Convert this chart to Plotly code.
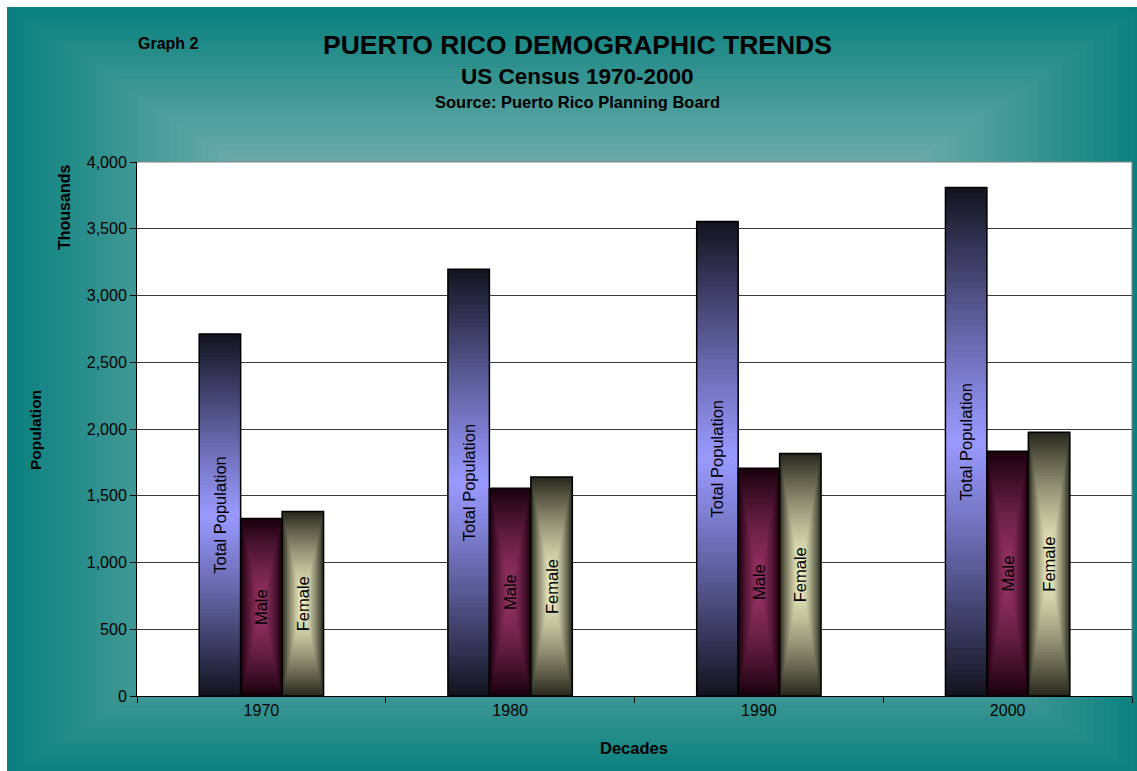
import plotly.graph_objects as go

# ---------------- data ----------------
decades = ["1970", "1980", "1990", "2000"]
total_pop = [2712, 3197, 3555, 3809]
male_pop = [1330, 1556, 1706, 1834]
female_pop = [1382, 1641, 1817, 1975]
series_names = ["Total Population", "Male", "Female"]
y_ticks = [0, 500, 1000, 1500, 2000, 2500, 3000, 3500, 4000]

# ---------------- style ----------------
W, H = 1137, 771
ML, MR, MT, MB = 137, 5, 162, 75
PW, PH = W - ML - MR, H - MT - MB
FONT = "Arial, 'Liberation Sans', sans-serif"

# center colour, edge colour, from-center (both directions) flag, gamma
series_style = [
    ((153, 153, 255), (18, 18, 30), False, 1.1),
    ((150, 50, 100), (24, 0, 12), True, 1.4),
    ((240, 240, 196), (38, 38, 28), True, 1.4),
]
GROUP = 0.5          # fraction of category used by the group
NSTEP = 48


def lerp(c0, c1, t):
    return "rgb(%d,%d,%d)" % tuple(round(a + (b - a) * t) for a, b in zip(c0, c1))


def px2paper(px, py):
    return (px - ML) / PW, (H - MB - py) / PH


fig = go.Figure()
series_vals = [total_pop, male_pop, female_pop]
w = GROUP / len(series_vals)

for j, (vals, name, (cc, ce, both, gam)) in enumerate(zip(series_vals, series_names, series_style)):
    left = -GROUP / 2 + j * w
    for k in range(NSTEP):
        s = 1 - k / NSTEP
        t = max(s - 0.5 / NSTEP, 0) ** gam
        sx = s if both else 1.0
        fig.add_trace(go.Bar(
            x=decades,
            y=[v * s for v in vals],
            base=[v * (1 - s) / 2 for v in vals],
            offset=left + (1 - sx) * w / 2,
            width=sx * w,
            marker=dict(color=lerp(cc, ce, t), line=dict(width=0)),
            showlegend=False, hoverinfo="skip",
        ))
    fig.add_trace(go.Bar(
        x=decades, y=vals, offset=left, width=w, name=name,
        marker=dict(color="rgba(0,0,0,0)", line=dict(color="black", width=1.5)),
        text=[name] * len(vals), textposition="inside", insidetextanchor="middle",
        textangle=-90, textfont=dict(family=FONT, size=16.5, color="black"),
        constraintext="none", showlegend=False,
    ))

# ---------------- background (rectangular from-centre gradient) ----------------
shapes = []
gx0, gy0, gx1, gy1 = 7, 7, W + 6, H + 6        # gradient geometry
cx, cy = (gx0 + gx1) / 2, (gy0 + gy1) / 2
hw, hh = (gx1 - gx0) / 2, (gy1 - gy0) / 2
c_center, c_edge = (255, 236, 232), (8, 128, 126)
NB = 70
for k in range(NB):
    s = 1 - k / NB
    t = max(s - 0.5 / NB, 0)
    if k == 0:
        x0, y0 = px2paper(gx0, gy1 + 40)
        x1, y1 = px2paper(gx1 + 40, gy0)
    else:
        x0, y0 = px2paper(cx - hw * s, cy + hh * s)
        x1, y1 = px2paper(cx + hw * s, cy - hh * s)
    shapes.append(dict(type="rect", xref="paper", yref="paper", x0=x0, y0=y0, x1=x1, y1=y1,
                       fillcolor=lerp(c_center, c_edge, t), line=dict(width=0), layer="below"))
# white plot area on top of the background gradient
shapes.append(dict(type="rect", xref="paper", yref="paper", x0=0, y0=0, x1=1, y1=1,
                   fillcolor="white", line=dict(width=0), layer="below"))
# plot-area frame (top/right)
shapes.append(dict(type="line", xref="paper", yref="paper", x0=0, y0=1, x1=1, y1=1,
                   line=dict(color="#808080", width=1), layer="above"))
shapes.append(dict(type="line", xref="paper", yref="paper", x0=1, y0=0, x1=1, y1=1,
                   line=dict(color="#808080", width=1), layer="above"))

# ---------------- annotations ----------------
def ann(text, px, py, size, bold=True, angle=0):
    x, y = px2paper(px, py)
    return dict(text="<b>%s</b>" % text if bold else text, x=x, y=y, xref="paper", yref="paper",
                showarrow=False, xanchor="center", yanchor="middle", textangle=angle,
                font=dict(family=FONT, size=size, color="black"))

annotations = [
    ann("Graph 2", 168, 44, 16),
    ann("PUERTO RICO DEMOGRAPHIC TRENDS", 577, 45, 26.5),
    ann("US Census 1970-2000", 577, 77, 22.5),
    ann("Source: Puerto Rico Planning Board", 577, 102, 16.5),
    ann("Population", 35, 430, 15.5, angle=-90),
    ann("Thousands", 64, 208, 16, angle=-90),
    ann("Decades", 634, 748, 16.5),
]

fig.update_layout(
    width=W, height=H, autosize=False,
    margin=dict(l=ML, r=MR, t=MT, b=MB, pad=0),
    paper_bgcolor="white", plot_bgcolor="white",
    barmode="overlay", showlegend=False,
    shapes=shapes, annotations=annotations,
    font=dict(family=FONT, size=16, color="black"),
)
fig.update_xaxes(
    type="category", range=[-0.5, len(decades) - 0.5],
    showline=True, linecolor="black", linewidth=1,
    ticks="outside", tickson="boundaries", ticklen=6, tickcolor="black",
    showgrid=False, tickfont=dict(family=FONT, size=16, color="black"),
)
fig.update_yaxes(
    range=[0, 4000], tickvals=y_ticks, tickformat=",d",
    showline=True, linecolor="black", linewidth=1,
    ticks="outside", ticklen=6, tickcolor="black",
    showgrid=True, gridcolor="#3a3a3a", gridwidth=1, zeroline=False,
    tickfont=dict(family=FONT, size=16, color="black"),
)

fig.write_html("out.html")
